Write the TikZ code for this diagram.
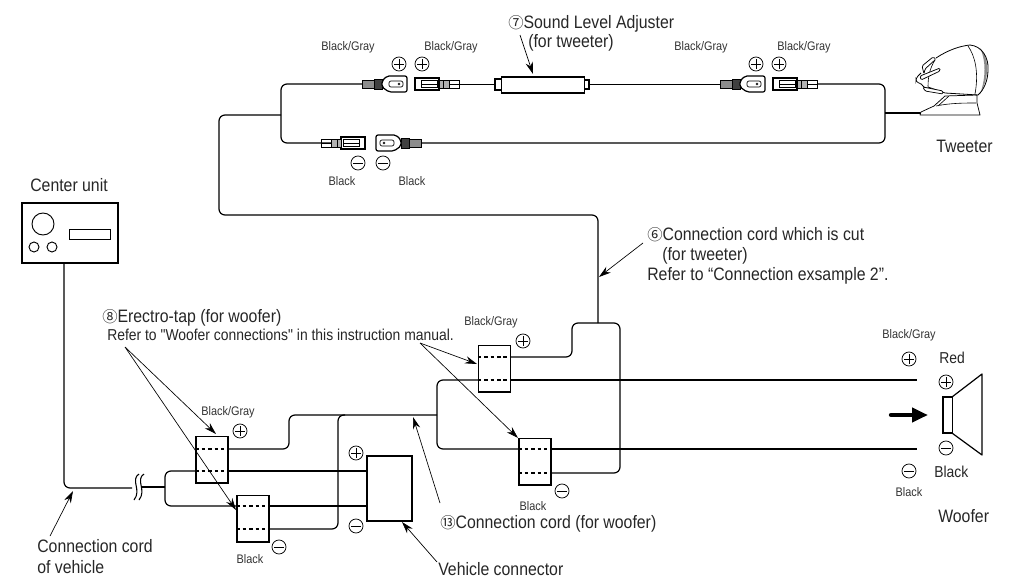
\documentclass[tikz,border=0pt]{standalone}
\usepackage{fontspec}
\setmainfont{Liberation Sans}[FakeStretch=0.88]
\newfontfamily\circfont{Noto Sans CJK JP}
\newfontfamily\plainquote{Liberation Sans}[FakeStretch=0.88]
\usetikzlibrary{arrows.meta}
\tikzset{
  wire/.style={line width=0.9pt,rounded corners=4.5pt},
  tapbox/.style={draw,line width=1pt,inner sep=0,minimum width=24pt,minimum height=35pt},
  tapdash/.style={line width=0.9pt,dash pattern=on 2.6pt off 2.2pt},
  pointer/.style={line width=0.5pt,-{Stealth[length=9pt,width=5.5pt]},shorten >=0pt},
  biglab/.style={inner sep=0,anchor=base west,font=\fontsize{13.5}{15}\selectfont,text=black!85},
  midlab/.style={biglab,font=\fontsize{11.85}{13}\selectfont},
  tinylab/.style={inner sep=0,anchor=base,font=\fontsize{9.3}{11}\selectfont,text=black!80},
  sign/.style={circle,draw,line width=0.55pt,inner sep=0,minimum size=10.5pt},
  signplus/.style={sign,path picture={
    \draw[line width=0.55pt] ([xshift=-3.6pt]path picture bounding box.center) -- ([xshift=3.6pt]path picture bounding box.center);
    \draw[line width=0.55pt] ([yshift=-3.6pt]path picture bounding box.center) -- ([yshift=3.6pt]path picture bounding box.center);}},
  signminus/.style={sign,path picture={
    \draw[line width=0.55pt] ([xshift=-3.6pt]path picture bounding box.center) -- ([xshift=3.6pt]path picture bounding box.center);}},
  malecon/.pic={
    \draw[line width=0.5pt,fill=black!45] (0,-4) rectangle (12,4);
    \draw[line width=0.5pt,fill=black!75] (12,-5) rectangle (20,5);
    \draw[line width=0.9pt,rounded corners=1.5pt,fill=white] (20,-3) -- (25,-8) -- (45,-8) -- (45,8) -- (27,8) -- (20,3) -- cycle;
    \draw[line width=0.5pt,rounded corners=1.5pt] (27,-3) rectangle (41,3);
    \draw[line width=0.4pt] (37,0) circle (1);
  },
  femalecon/.pic={
    \draw[line width=0.9pt,fill=white] (0,-6) rectangle (24,6);
    \draw[line width=0.5pt] (6,-3.5) rectangle (22,3.5);
    \draw[line width=0.5pt] (6,0) -- (22,0);
    \draw[line width=0.5pt,fill=black!30] (24,-4) rectangle (34,4);
    \draw[line width=0.5pt] (34,-4) rectangle (44,4);
    \draw[line width=0.5pt] (34,0) -- (44,0) (28,-4) -- (28,4);
  }
}
\newcommand{\circnum}[1]{{\circfont\fontsize{11.5}{12}\selectfont #1}}
\begin{document}
\begin{tikzpicture}[x=0.75pt,y=-0.75pt]
\useasboundingbox (0,0) rectangle (1015,579);
% center unit
\node[draw,line width=1pt,inner sep=0,minimum width=72pt,minimum height=45pt] (centerunit) at (70,233) {};
\draw[line width=0.7pt] (43,224) circle (11) (34,247) circle (5) (52,247) circle (5);
\draw[line width=0.7pt] (69,229) rectangle (110,239);
\node[biglab,anchor=base] (centerlab) at (69,191) {Center unit};
% boxes
\node[tapbox] (tapa) at (212,459.5) {};
\node[tapbox] (tapb) at (253,518.5) {};
\node[tapbox] (tapc) at (494.5,368.5) {};
\node[tapbox] (tapd) at (535,461.5) {};
\node[draw,line width=1pt,inner sep=0,minimum width=33.75pt,minimum height=48.75pt] (vehicleconn) at (389.5,488.5) {};
% cord from the head unit
\coordinate (cordbreak) at (132,488);
\coordinate (cordjoin) at (165,487);
\draw[wire] (centerunit.south -| 64,0) -- (64,488) -- (cordbreak);
\draw[line width=0.8pt] (cordjoin) -- (142,487);
\draw[line width=0.8pt] (139,474) .. controls (130,480) and (142,490) .. (134,500);
\draw[line width=0.8pt] (144,474) .. controls (135,480) and (147,490) .. (139,500);
\draw[wire] (tapa.west |- 0,471) -- (165,471) -- (165,506) -- (tapb.west |- 0,506);
\draw[wire] (tapa.east |- 0,471) -- (vehicleconn.west |- 0,471);
\draw[wire] (tapb.east |- 0,506) -- (vehicleconn.west |- 0,506);
\draw[tapdash] (tapa.west |- 0,449) -- (tapa.east |- 0,449) (tapa.west |- 0,471) -- (tapa.east |- 0,471);
\draw[tapdash] (tapb.west |- 0,506) -- (tapb.east |- 0,506) (tapb.west |- 0,529) -- (tapb.east |- 0,529);
\draw[tapdash] (tapc.west |- 0,357) -- (tapc.east |- 0,357) (tapc.west |- 0,380) -- (tapc.east |- 0,380);
\draw[tapdash] (tapd.west |- 0,449) -- (tapd.east |- 0,449) (tapd.west |- 0,473) -- (tapd.east |- 0,473);
% woofer cord
\coordinate (wooferplus) at (917,380);
\coordinate (wooferminus) at (917,449);
\draw[wire] (tapa.east |- 0,449) -- (289,449) -- (289,415) -- (437,415);
\draw[wire] (tapb.east |- 0,529) -- (338,529) -- (338,415) -- (345,415);
\draw[wire] (tapc.west |- 0,380) -- (437,380) -- (437,449) -- (tapd.west |- 0,449);
\draw[wire] (tapc.east |- 0,380) -- (wooferplus);
\draw[wire] (tapd.east |- 0,449) -- (wooferminus);
\draw[wire] (tapc.east |- 0,357) -- (572,357) -- (572,323) -- (620,323) -- (620,473) -- (tapd.east |- 0,473);
% tweeter cord
\coordinate (plugpa) at (362,84);
\coordinate (sockpa) at (459,84);
\coordinate (plugpb) at (720,84);
\coordinate (sockpb) at (817,84);
\coordinate (sockma) at (365,143);
\coordinate (plugma) at (421,143);
\draw[wire] (598,323) -- (598,215) -- (219,215) -- (219,115) -- (281,115);
\draw[wire] (plugpa) -- (281,84) -- (281,143) -- (sockma);
\draw[wire] (sockpb) -- (885,84) -- (885,143) -- (plugma);
\draw[wire] (885,113) -- (921,113);
\draw[line width=0.65pt] (sockpa) -- (495,84);
\draw[line width=0.65pt] (588,84) -- (plugpb);
\pic at (plugpa) {malecon};
\pic at (415,84) {femalecon};
\pic at (plugpb) {malecon};
\pic at (773,84) {femalecon};
\pic[xscale=-1] at (sockma) {femalecon};
\pic[xscale=-1] at (plugma) {malecon};
% sound level adjuster
\node[draw,line width=0.9pt,inner sep=0,minimum width=62pt,minimum height=12pt] (adjuster) at (543,85) {};
\draw[line width=0.8pt] (adjuster.west |- 0,79) -- (495,79) -- (495,90) -- (adjuster.west |- 0,90);
\draw[line width=0.8pt] (adjuster.east |- 0,80) -- (589,80) -- (589,89) -- (adjuster.east |- 0,89);
% tweeter
\draw[line width=0.55pt,fill=white,line join=round] (945,96) -- (934,106) -- (921,112) -- (920,115) -- (980,115) -- (977,103) -- (977,95) -- cycle;
\draw[line width=0.45pt] (949,96) -- (938,106) (936,106) .. controls (950,103) and (965,103) .. (976,103);
\fill[black!45] (980,48) .. controls (988,56) and (991,74) .. (980,94) .. controls (986,78) and (986,60) .. (980,48) -- cycle;
\draw[line width=0.6pt,line join=round] (936,58) .. controls (948,50) and (960,46) .. (970,45)
  .. controls (982,46) and (989,58) .. (988,70) .. controls (988,80) and (984,90) .. (978,95)
  -- (945,93) -- (928,87);
\draw[line width=0.45pt] (968,46) .. controls (975,56) and (979,72) .. (975,94);
\draw[line width=0.45pt] (935,60) .. controls (930,68) and (928,76) .. (928,87);
\draw[line width=0.55pt,fill=white,rounded corners=1pt] (922,66) -- (933,57) -- (936,59) -- (925,69) -- (924,74) -- cycle;
\draw[line width=0.55pt,fill=white,rounded corners=2pt] (921,73) -- (916,78) -- (916,82) -- (922,84) -- (924,88) -- (928,88);
\draw[line width=0.55pt,fill=white,rounded corners=1pt] (920,76) -- (940,68) -- (940,71) -- (921,80) -- cycle;
\draw[line width=0.55pt,fill=white,rounded corners=1pt] (923,87) -- (943,91) -- (943,94) -- (925,91) -- cycle;
% speaker
\node[draw,line width=1pt,inner sep=0,minimum width=7pt,minimum height=27pt] (woofermag) at (947.5,415) {};
\draw[line width=0.9pt,line join=round] (woofermag.north east) -- (982,374) -- (982,455) -- (woofermag.south east);
\coordinate (arrowtail) at (891,415);
\coordinate (arrowtip) at (928,415);
\draw[line width=3.3pt,line cap=round,-{Triangle[length=12pt,width=10.5pt]}] (arrowtail) -- (arrowtip);
% pointers
\coordinate (tapfromleft) at (125,347);
\coordinate (tapfromright) at (420,343);
\draw[pointer] (tapfromleft) -- (216,434);
\draw[pointer] (tapfromleft) -- (236,510);
\draw[pointer] (tapfromright) -- (477,364);
\draw[pointer] (tapfromright) -- (518,438);
\draw[pointer] (520,35) -- (533,74);
\draw[pointer] (643,243) -- (599,277);
\draw[pointer] (50,536) -- (73,491);
\draw[pointer] (437,562) -- (402,522);
\draw[pointer] (440,503) -- (413,417);
% signs
\foreach \nm/\px/\py in {pa/399/64,pb/422/64,pc/756/64,pd/779/64,pe/240/431,pf/356/453,pg/523/341,ph/909/359,pi/946/382}
  \node[signplus] (sign\nm) at (\px,\py) {};
\foreach \nm/\px/\py in {ma/358/163,mb/383/163,mc/279/547,md/356/526,me/562/491,mf/946/448,mg/909/471}
  \node[signminus] (sign\nm) at (\px,\py) {};
% small colour labels
\foreach \nm/\px/\py/\tx in {a/348/50/Black\slash Gray,b/451/50/Black\slash Gray,c/701/50/Black\slash Gray,d/804/50/Black\slash Gray,
  e/342/185/Black,f/412/185/Black,g/228/415/Black\slash Gray,h/250/563/Black,i/491/325/Black\slash Gray,j/533/510/Black,
  k/909/338/Black\slash Gray,l/909/496/Black}
  \node[tinylab] (colour\nm) at (\px,\py) {\tx};
% texts
\node[biglab] (adjusterlab) at (508,28) {\circnum{⑦}Sound Level Adjuster};
\node[biglab] (adjusterlabb) at (528,47) {(for tweeter)};
\node[biglab] (tweeterlab) at (936,152) {Tweeter};
\node[biglab] (cutlab) at (647,240) {\circnum{⑥}Connection cord which is cut};
\node[biglab] (cutlabb) at (662,260) {(for tweeter)};
\node[biglab] (cutlabc) at (647,280) {Refer to “Connection exsample 2”.};
\node[biglab] (taplab) at (102,322) {\circnum{⑧}Erectro-tap (for woofer)};
\node[midlab] (taplabb) at (107,340) {\plainquote Refer to "Woofer connections" in this instruction manual.};
\node[biglab] (cordlab) at (37,552) {Connection cord};
\node[biglab] (cordlabb) at (37,573) {of vehicle};
\node[biglab] (vehiclelab) at (438,575) {Vehicle connector};
\node[biglab] (wooferlab) at (440,528) {\circnum{⑬}Connection cord (for woofer)};
\node[midlab] (redlab) at (939,363) {Red};
\node[midlab] (blacklab) at (934,477) {Black};
\node[biglab] (woofername) at (938,522) {Woofer};
\end{tikzpicture}
\end{document}
